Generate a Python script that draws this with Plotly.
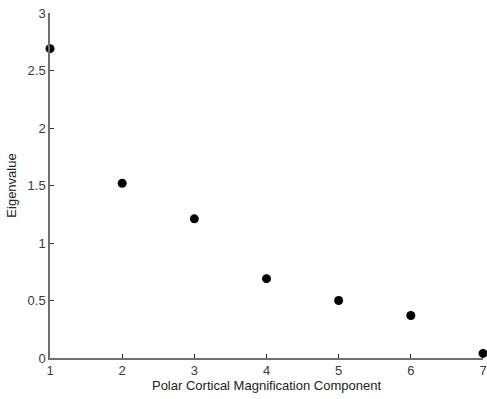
import plotly.graph_objects as go

components = [1, 2, 3, 4, 5, 6, 7]
eigenvalues = [2.69, 1.52, 1.21, 0.69, 0.50, 0.37, 0.04]
x_ticks = [1, 2, 3, 4, 5, 6, 7]
y_ticks = [0, 0.5, 1, 1.5, 2, 2.5, 3]
y_tick_text = ["0", "0.5", "1", "1.5", "2", "2.5", "3"]

fig = go.Figure(
    go.Scatter(
        x=components,
        y=eigenvalues,
        mode="markers",
        marker=dict(color="black", size=9),
        cliponaxis=False,
    )
)

font_family = "Arial, Liberation Sans"

axis_common = dict(
    showgrid=False,
    zeroline=False,
    showline=True,
    linecolor="#6e6e6e",
    linewidth=1.5,
    ticks="inside",
    ticklen=4,
    tickcolor="#333333",
    automargin=False,
    tickfont=dict(family=font_family, size=13, color="#3a3a3a"),
)

fig.update_layout(
    width=487,
    height=399,
    margin=dict(l=50, r=4, t=13, b=41),
    plot_bgcolor="white",
    paper_bgcolor="white",
    showlegend=False,
    xaxis=dict(
        range=[1, 7],
        tickvals=x_ticks,
        title=dict(
            text="Polar Cortical Magnification Component",
            font=dict(family=font_family, size=13, color="#222222"),
            standoff=4,
        ),
        **axis_common,
    ),
    yaxis=dict(
        range=[0, 3],
        tickvals=y_ticks,
        ticktext=y_tick_text,
        title=dict(
            text="Eigenvalue",
            font=dict(family=font_family, size=13, color="#222222"),
            standoff=8,
        ),
        **axis_common,
    ),
)

fig.write_html("out.html")
